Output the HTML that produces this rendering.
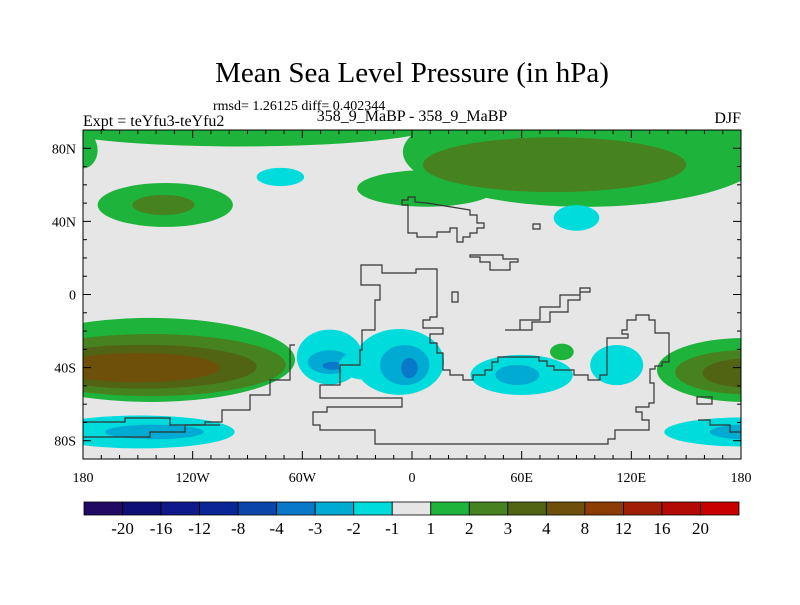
<!DOCTYPE html>
<html><head><meta charset="utf-8">
<style>
html,body{margin:0;padding:0;background:#fff;}
body{width:800px;height:600px;overflow:hidden;font-family:"Liberation Serif",serif;}
svg text{font-family:"Liberation Serif",serif;fill:#000;}
</style></head>
<body>
<svg id="chart" width="800" height="600" viewBox="0 0 800 600" xmlns="http://www.w3.org/2000/svg">
  <text x="412" y="82" font-size="29" text-anchor="middle">Mean Sea Level Pressure (in hPa)</text>
  <text x="213" y="110" font-size="14">rmsd= 1.26125 diff= 0.402344</text>
  <text x="412" y="121" font-size="16" text-anchor="middle">358_9_MaBP - 358_9_MaBP</text>
  <text x="83" y="126" font-size="16">Expt = teYfu3-teYfu2</text>
  <text x="741" y="123" font-size="16" text-anchor="end">DJF</text>
  <defs><clipPath id="mapclip"><rect x="83" y="130" width="658" height="329"/></clipPath></defs>
  <rect x="83" y="130" width="658" height="329" fill="#e6e6e6"/>
  <g id="fields" clip-path="url(#mapclip)"></g>
  <g id="coast" clip-path="url(#mapclip)"></g>
  <rect x="83" y="130" width="658" height="329" fill="none" stroke="#000" stroke-width="1"/>
  <g id="ticks"></g>
  <g id="cbar"></g>
</svg>
<script>
// Contour blobs: centre lon, centre lat, radius lon, radius lat, level index (color bin)
const blobLon  = [-94,-180, 95, 8, 78, -135,-136, -72, 90, -143,-143,-147,-150, 182,182,184, -149,-141, 182,182, -45,-45,-43.4, -26, -7,-4,-1.4, 60,57.6, 82, 112];
const blobLat  = [93, 79, 78, 58, 71, 49, 49, 64.3, 41.9, -35.8,-38.6,-39.5,-40, -41.3,-42.5,-43, -75.2,-75.2, -75.2,-75.2, -34.2,-37,-39, -38.6, -36.9,-38.6,-40.2, -44,-44, -31.4, -38.6];
const blobRLon = [109, 8, 100, 38, 72, 37, 17, 13, 12.5, 79, 74, 62, 45, 48, 38, 25, 52, 27, 44, 19, 18, 12, 5.5, 14, 24.5, 13.5, 4.5, 28, 12, 6.5, 14.5];
const blobRLat = [12, 10, 30, 10, 15, 12, 5.5, 5, 7, 23, 17, 12, 8, 17.5, 12, 8, 9, 4, 8, 4, 15, 6.5, 2.2, 8, 18, 11, 5.5, 11, 5.5, 4.5, 11];
const blobLevel= [9, 9, 9, 9, 10, 9, 10, 7, 7, 9, 10, 11, 12, 9, 10, 11, 7, 6, 7, 6, 7, 6, 5, 7, 7, 6, 5, 7, 6, 9, 7];
const levelColors = ["#200a64","#0f0f78","#0f1a8a","#0a2596","#0a46aa","#0a78c8","#00aad2","#00dcdc","#e6e6e6","#1eb43c","#468220","#506414","#6e500a","#8c3c05","#a01e05","#b40a05","#c80000"];
const levelLabels = ["-20","-16","-12","-8","-4","-3","-2","-1","1","2","3","4","8","12","16","20"];
const lonTickLabels = ["180","120W","60W","0","60E","120E","180"];
const lonTickValues = [-180,-120,-60,0,60,120,180];
const latTickLabels = ["80N","40N","0","40S","80S"];
const latTickValues = [80,40,0,-40,-80];

const NS="http://www.w3.org/2000/svg";
const X0=83,X1=741,Y0=130,Y1=459;
function x(lon){return X0+(lon+180)/360*(X1-X0);}
function y(lat){return Y0+(90-lat)/180*(Y1-Y0);}
function mk(tag,attrs,parent){const e=document.createElementNS(NS,tag);for(const k in attrs)e.setAttribute(k,attrs[k]);parent.appendChild(e);return e;}

const fields=document.getElementById('fields');
for(let i=0;i<blobLon.length;i++){
  const e=mk('ellipse',{cx:x(blobLon[i]),cy:y(blobLat[i]),rx:blobRLon[i]/360*(X1-X0),ry:blobRLat[i]/180*(Y1-Y0),fill:levelColors[blobLevel[i]]},fields);
  
  
}

// coastlines (approximate paleo land mask outlines)
const coast=document.getElementById('coast');
const coastPaths=[
 "M402,205 H408 V233 H417 V237 H437 V232 H450 V228 H457 V242 H463 V237 H470 V233 H477 V228 H484 V223 H477 V215 H470 V210 L427,203 L415,202 V197 H408 V200 H402 Z",
 "M361,265 H382 V273 H416 V269 H437 V317 H430 V320 H423 V328 H443 V334 H430 V343 H437 V353 H443 V370 H450 V375 H463 V380 H473 V375 H485 V370 H492 V362 H498 V357 H539 V361 H547 V366 H554 V370 H574 V375 H588 V380 H600 V375 H607 V338 H628 V334 H622 V330 H627 V320 H636 V315 H649 V320 H655 V333 H669 V362 H662 V366 H655 V369 H650 V383 H654 V403 H649 V407 H636 V412 H642 V420 H649 V430 H615 V439 H608 V444 H375 V430 H320 V425 H313 V412 H327 V407 H402 V398 H320 V385 H340 V365 H360 V350 H362 V330 H375 V300 H380 V285 H361 Z",
 "M83,422 H125 V418 H170 V425 H205 V422 H222 V410 H250 V395 H270 V380 H290 V345 H295",
 "M83,437 H150 V432 H185 V425 H220",
 "M470,257 H480 V262 H490 V270 H510 V262 H518 V259 H503 V255 H470 Z",
 "M505,330 H520 V320 H540 V307 H560 V295 H580 V288 H590 V292 H580 V300 H568 V312 H550 V322 H532 V330 H505 Z",
 "M452,292 H458 V302 H452 Z",
 "M697,397 H712 V404 H697 Z",
 "M698,420 H710 V425 H730 V432 H741",
 "M533,224 H540 V229 H533 Z"
];
coastPaths.forEach(d=>{
  const p=mk('path',{d:d,fill:"none",stroke:"#333",'stroke-width':1.2},coast);
  
  
});

// ticks
const ticks=document.getElementById('ticks');
for(let lon=-180;lon<=180;lon+=10){
  const major=lon%60===0, len=major?8:4;
  mk('line',{x1:x(lon),x2:x(lon),y1:Y1,y2:Y1-len,stroke:"#000"},ticks);
  mk('line',{x1:x(lon),x2:x(lon),y1:Y0,y2:Y0+len,stroke:"#000"},ticks);
}
for(let lat=-90;lat<=90;lat+=10){
  const major=lat%40===0, len=major?8:4;
  mk('line',{x1:X0,x2:X0+len,y1:y(lat),y2:y(lat),stroke:"#000"},ticks);
  mk('line',{x1:X1,x2:X1-len,y1:y(lat),y2:y(lat),stroke:"#000"},ticks);
}
lonTickValues.forEach((v,i)=>{
  const t=mk('text',{x:x(v),y:482,'font-size':14,'text-anchor':'middle'},ticks);
  t.textContent=lonTickLabels[i];
  
  
});
latTickValues.forEach((v,i)=>{
  const t=mk('text',{x:76,y:y(v)+5,'font-size':14,'text-anchor':'end'},ticks);
  t.textContent=latTickLabels[i];
  
  
});

// colorbar
const cbar=document.getElementById('cbar');
const CB0=84,CB1=739,CBT=502,CBH=13,n=levelColors.length,w=(CB1-CB0)/n;
levelColors.forEach((c,i)=>{
  const r=mk('rect',{x:CB0+i*w,y:CBT,width:w,height:CBH,fill:c,stroke:"#000",'stroke-width':0.8},cbar);
  
  
});
levelLabels.forEach((s,i)=>{
  const t=mk('text',{x:CB0+(i+1)*w,y:534,'font-size':17,'text-anchor':'middle'},cbar);
  t.textContent=s;
  
  
});
</script>
</body></html>
